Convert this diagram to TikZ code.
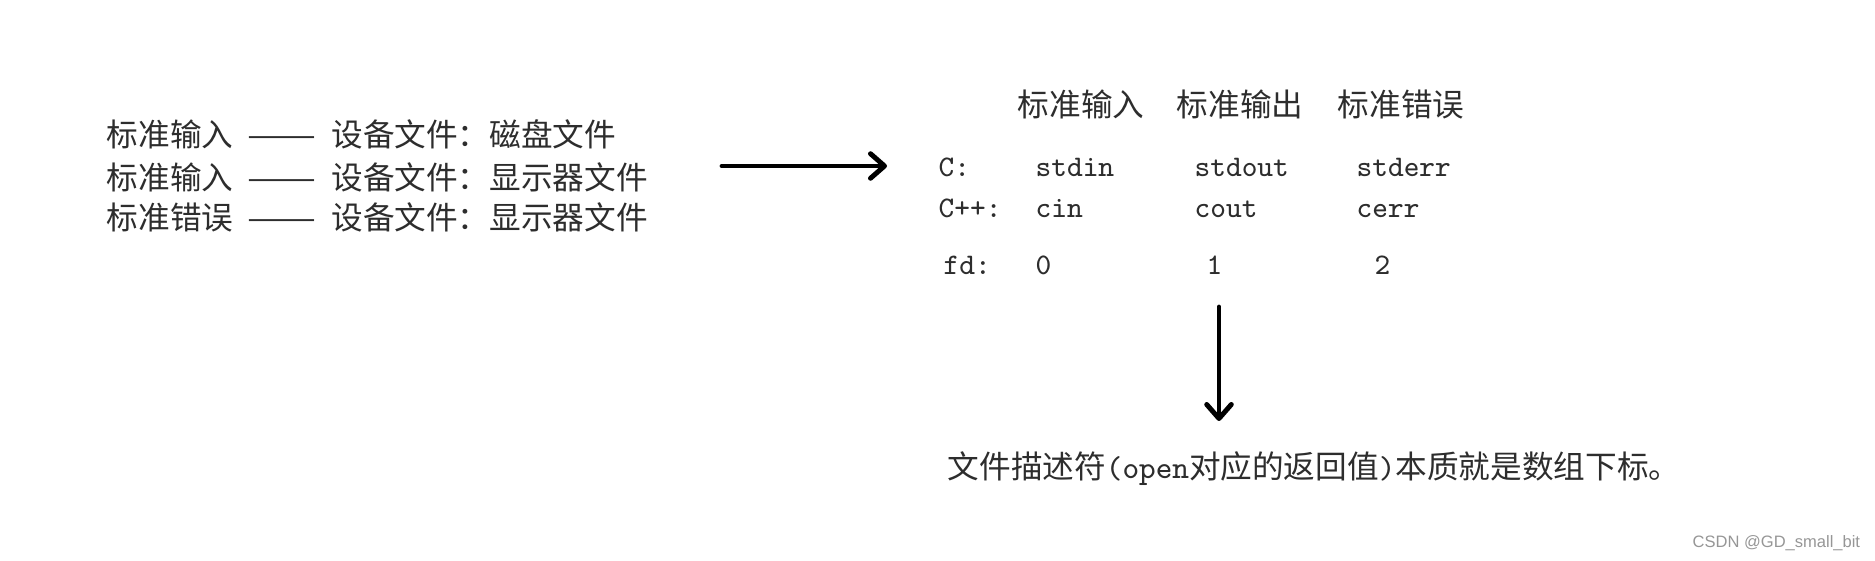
\documentclass[tikz,border=0pt]{standalone}
\usepackage{fontspec}
\newfontfamily\cjk{Noto Sans CJK SC}
\newfontfamily\wmfont{Liberation Sans}
\usepackage{xcolor}
\usepackage{tikz}
\usetikzlibrary{arrows.meta}
\definecolor{inkgray}{RGB}{45,45,45}
\definecolor{wmgray}{RGB}{150,150,150}
\newcommand{\longdash}{\hspace{0.46em}\scalebox{1.3}[1]{——}\hspace{0.46em}}
\newcommand{\widecolon}{\makebox[1em][l]{：}}

\tikzset{
  cjktxt/.style={font=\cjk\fontsize{9}{10}\selectfont, text=inkgray, inner sep=0pt, anchor=base west},
  codetxt/.style={font=\ttfamily\fontsize{8.5}{10}\selectfont, text=inkgray, inner sep=0pt, anchor=base west},
  bigarrow/.style={line width=1.4pt, line cap=round, -{Straight Barb[length=4pt,width=7pt,round]}}
}

\begin{document}
\begin{tikzpicture}[x=0.01cm,y=-0.01cm]
\useasboundingbox (0,0) rectangle (1875,561);
% devices behind the three streams
\node[cjktxt] (dev1) at (106,147) {标准输入\longdash 设备文件\widecolon 磁盘文件};
\node[cjktxt] (dev2) at (106,190) {标准输入\longdash 设备文件\widecolon 显示器文件};
\node[cjktxt] (dev3) at (106,230) {标准错误\longdash 设备文件\widecolon 显示器文件};
\coordinate (arrL) at (722,166);
\coordinate (arrR) at (887,166);
\draw[bigarrow] (arrL) -- (arrR);
% column heads
\node[cjktxt] (hdIn) at (1017,117) {标准输入};
\node[cjktxt] (hdOut) at (1176,117) {标准输出};
\node[cjktxt] (hdErr) at (1337,117) {标准错误};
% C, C++ and fd rows
\node[codetxt] (labC) at (938,177) {C:};
\node[codetxt] (cIn) at (1035,177) {stdin};
\node[codetxt] (cOut) at (1194,177) {stdout};
\node[codetxt] (cErr) at (1356,177) {stderr};
\node[codetxt] (labCpp) at (938,218) {C++:};
\node[codetxt] (cppIn) at (1035,218) {cin};
\node[codetxt] (cppOut) at (1194,218) {cout};
\node[codetxt] (cppErr) at (1356,218) {cerr};
\node[codetxt] (labFd) at (943,275) {fd:};
\node[codetxt] (fdIn) at (1035,275) {0};
\node[codetxt] (fdOut) at (1206,275) {1};
\node[codetxt] (fdErr) at (1374,275) {2};
\coordinate (arrT) at (1219,307);
\coordinate (arrB) at (1219,421);
\draw[bigarrow] (arrT) -- (arrB);
\node[cjktxt] (note) at (947,479) {文件描述符\texttt{(open}对应的返回值\texttt{)}本质就是数组下标。};
\node[font=\wmfont\fontsize{4.7}{6}\selectfont, text=wmgray, inner sep=0pt, anchor=base west] (mark) at (1692,548) {CSDN @GD\_small\_bit};
\end{tikzpicture}
\end{document}
